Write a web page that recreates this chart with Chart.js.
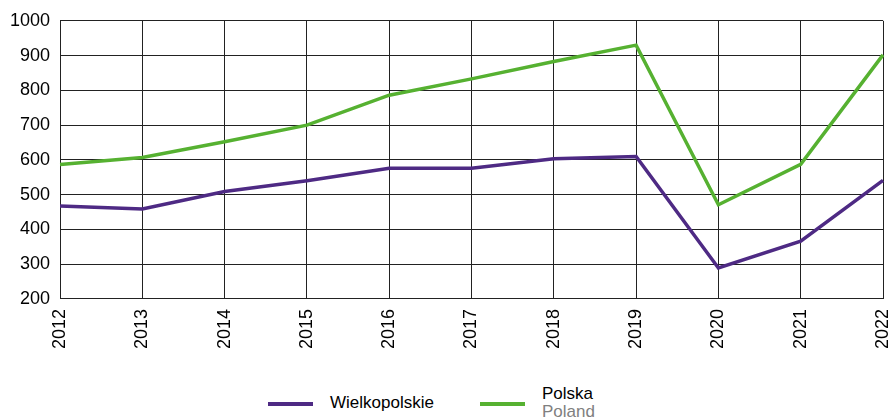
<!DOCTYPE html>
<html>
<head>
<meta charset="utf-8">
<script src="https://cdn.jsdelivr.net/npm/chart.js@4"></script>
<style>
    html, body { margin: 0; padding: 0; background: #fff; }
    body { width: 893px; height: 420px; position: relative; overflow: hidden; font-family: 'Liberation Sans', Arial, sans-serif; }
    #wrap { position: absolute; left: 0; top: 0; width: 893px; height: 359px; }
    .leg { position: absolute; top: 392px; font-size: 17px; color: #000; line-height: 18px; }
    .leg .sw { position: absolute; top: 10px; width: 45px; height: 4px; }
    .leg .en { color: #808080; }
</style>
</head>
<body>
<div id="wrap"><canvas id="chart"></canvas></div>
<div class="leg" style="left:268px;"><span class="sw" style="background:#4e2a84;left:0"></span><span style="position:absolute;left:62px;top:2px;white-space:nowrap">Wielkopolskie</span></div>
<div class="leg" style="left:480px;"><span class="sw" style="background:#56b131;left:0"></span><span style="position:absolute;left:62px;top:-7px;white-space:nowrap">Polska<br><span class="en">Poland</span></span></div>
<script>
const years = ['2012', '2013', '2014', '2015', '2016', '2017', '2018', '2019', '2020', '2021', '2022']
const wielkopolskie = [467, 459, 509, 540, 576, 576, 603, 610, 289, 366, 541]
const polska = [587, 607, 652, 700, 786, 833, 883, 930, 471, 587, 902]

const purple = '#4e2a84'
const green = '#56b131'
const tickFont = { family: "'Liberation Sans', Arial", size: 18 }

new Chart(document.getElementById('chart'), {
    type: 'line',
    data: {
        labels: years,
        datasets: [
            { label: 'Wielkopolskie', data: wielkopolskie, borderColor: purple, borderWidth: 3.5, pointRadius: 0, tension: 0 },
            { label: 'Polska', data: polska, borderColor: green, borderWidth: 3.5, pointRadius: 0, tension: 0 }
        ]
    },
    options: {
        responsive: true,
        maintainAspectRatio: false,
        animation: false,
        layout: { padding: { top: 6, right: 10, left: 0, bottom: 0 } },
        plugins: { legend: { display: false }, tooltip: { enabled: false } },
        scales: {
            x: {
                offset: false,
                grid: { color: '#222', lineWidth: 1, drawTicks: false },
                border: { color: '#222' },
                ticks: { color: '#000', font: tickFont, maxRotation: 90, minRotation: 90, padding: 10 },
                afterFit(scale) { scale.paddingRight = 0 }
            },
            y: {
                min: 200,
                max: 1000,
                grid: { color: '#222', lineWidth: 1, drawTicks: false },
                border: { color: '#222' },
                ticks: { stepSize: 100, color: '#000', font: tickFont, padding: 10, callback: v => String(v) }
            }
        }
    }
})
</script>
</body>
</html>
